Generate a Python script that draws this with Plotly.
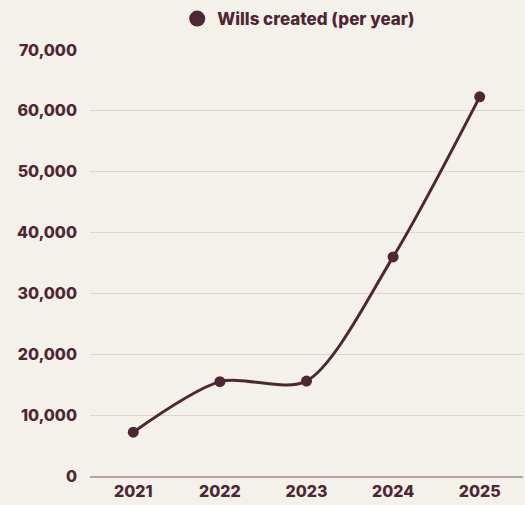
import plotly.graph_objects as go

years = ["2021", "2022", "2023", "2024", "2025"]
wills_created = [7200, 15500, 15600, 36000, 62300]
y_ticks = [0, 10000, 20000, 30000, 40000, 50000, 60000, 70000]
y_tick_labels = ["0", "10,000", "20,000", "30,000", "40,000", "50,000", "60,000", "70,000"]
series_name = "Wills created (per year)"

wine = "#4f2633"
bg = "#f4f1eb"

fig = go.Figure()
fig.add_trace(go.Scatter(
    x=years,
    y=wills_created,
    mode="lines+markers",
    name=series_name,
    showlegend=False,
    line=dict(color=wine, width=3, shape="spline", smoothing=0.8),
    marker=dict(color=wine, size=11),
))
# legend entry drawn as a plain circle
fig.add_trace(go.Scatter(
    x=[None],
    y=[None],
    mode="markers",
    name=series_name,
    marker=dict(color=wine, size=17),
    showlegend=True,
))

fig.update_layout(
    width=525,
    height=505,
    margin=dict(l=90, r=2, t=50, b=29),
    paper_bgcolor=bg,
    plot_bgcolor=bg,
    font=dict(family="Inter, sans-serif", color=wine, size=16),
    showlegend=True,
    legend=dict(
        orientation="h",
        x=0.482,
        xanchor="center",
        xref="paper",
        y=0.998,
        yanchor="top",
        yref="container",
        font=dict(size=17, family="Inter, sans-serif", weight=800),
        itemsizing="trace",
        itemwidth=30,
        bgcolor="rgba(0,0,0,0)",
    ),
    xaxis=dict(
        type="category",
        range=[-0.5, 4.5],
        showgrid=False,
        showline=True,
        linecolor="#b5a2a5",
        linewidth=1.5,
        ticks="",
        tickfont=dict(size=16, weight=800),
        zeroline=False,
        fixedrange=True,
    ),
    yaxis=dict(
        range=[0, 70000],
        tickvals=y_ticks,
        ticktext=y_tick_labels,
        showgrid=True,
        gridcolor="#ddd6d0",
        gridwidth=1,
        zeroline=False,
        ticks="",
        ticklabelstandoff=12,
        tickfont=dict(size=16, weight=800),
        fixedrange=True,
    ),
)

fig.write_html("out.html")
